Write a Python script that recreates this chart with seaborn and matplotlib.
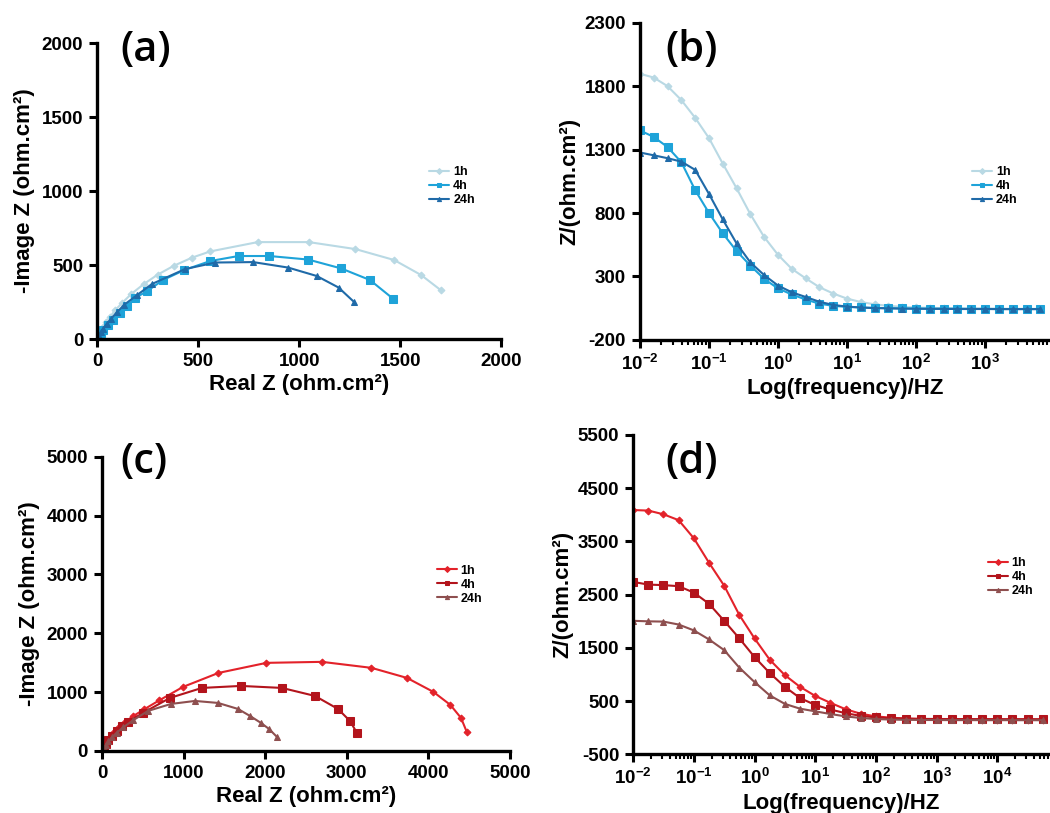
import numpy as np
import pandas as pd
import seaborn as sns
import matplotlib.pyplot as plt
from matplotlib.ticker import FuncFormatter, LogLocator, NullFormatter, FixedLocator

# ---- data ----
times = ["1h", "4h", "24h"]

# (a) Nyquist, first sample set
a_re_1h = [0, 8, 18, 30, 45, 65, 90, 125, 170, 230, 300, 380, 470, 560, 795, 1048, 1278, 1470, 1604, 1700]
a_im_1h = [0, 25, 50, 80, 112, 150, 195, 245, 305, 370, 435, 495, 550, 592, 655, 655, 608, 534, 432, 331]
a_re_4h = [0, 10, 20, 32, 55, 80, 114, 148, 188, 248, 327, 431, 560, 700, 853, 1045, 1208, 1350, 1465]
a_im_4h = [0, 22, 42, 62, 95, 128, 176, 223, 277, 324, 399, 466, 527, 561, 561, 537, 477, 399, 272]
a_re_24h = [0, 8, 18, 30, 48, 70, 98, 135, 198, 272, 436, 586, 772, 945, 1087, 1195, 1272]
a_im_24h = [0, 22, 45, 70, 102, 138, 180, 232, 297, 372, 473, 517, 520, 483, 426, 348, 250]

# (b) Bode modulus, first sample set
b_freq = [0.01, 0.0158, 0.0251, 0.0398, 0.0631, 0.1, 0.158, 0.251, 0.398, 0.631,
          1, 1.58, 2.51, 3.98, 6.31, 10, 15.8, 25.1, 39.8, 63.1,
          100, 158, 251, 398, 631, 1000, 1580, 2510, 3980, 6310]
b_z_1h = [1898, 1868, 1800, 1690, 1550, 1390, 1190, 995, 790, 610,
          470, 360, 285, 215, 165, 125, 98, 80, 68, 60,
          55, 52, 50, 48, 47, 46, 45, 44, 44, 44]
b_z_4h = [1451, 1400, 1320, 1200, 980, 800, 640, 500, 385, 280,
          205, 158, 118, 85, 68, 60, 55, 52, 50, 48,
          47, 46, 45, 45, 44, 44, 43, 43, 43, 43]
b_z_24h = [1277, 1255, 1232, 1205, 1140, 950, 750, 560, 410, 310,
           228, 175, 138, 100, 75, 62, 55, 50, 48, 46,
           45, 44, 44, 43, 43, 43, 42, 42, 42, 42]

# (c) Nyquist, second sample set
c_re_1h = [0, 15, 35, 60, 95, 140, 200, 280, 380, 520, 700, 993, 1428, 2016, 2696, 3303, 3738, 4062, 4270, 4400, 4473]
c_im_1h = [0, 40, 90, 150, 220, 300, 390, 490, 590, 710, 858, 1088, 1326, 1497, 1514, 1412, 1241, 1003, 782, 561, 315]
c_re_4h = [0, 20, 45, 80, 125, 180, 240, 319, 502, 833, 1225, 1703, 2206, 2610, 2892, 3039, 3125]
c_im_4h = [0, 50, 110, 180, 260, 340, 420, 493, 646, 901, 1071, 1105, 1071, 935, 714, 510, 306]
c_re_24h = [0, 20, 45, 80, 125, 180, 260, 380, 564, 846, 1140, 1422, 1667, 1814, 1949, 2047, 2145]
c_im_24h = [0, 45, 100, 165, 235, 310, 400, 520, 680, 799, 850, 816, 714, 595, 476, 374, 238]

# (d) Bode modulus, second sample set
d_freq = [0.01, 0.0178, 0.0316, 0.0562, 0.1, 0.178, 0.316, 0.562, 1, 1.78,
          3.16, 5.62, 10, 17.8, 31.6, 56.2, 100, 178, 316, 562,
          1000, 1780, 3160, 5620, 10000, 17800, 31600, 56200]
d_z_1h = [4090, 4080, 4010, 3900, 3560, 3100, 2670, 2120, 1680, 1280,
          990, 770, 600, 470, 350, 265, 215, 190, 175, 165,
          160, 158, 156, 155, 155, 154, 154, 153]
d_z_4h = [2740, 2690, 2680, 2660, 2540, 2330, 2010, 1680, 1330, 1030,
          770, 560, 430, 345, 275, 225, 195, 180, 172, 168,
          166, 165, 164, 164, 163, 163, 163, 162]
d_z_24h = [2010, 2000, 1995, 1940, 1830, 1660, 1460, 1130, 860, 610,
           450, 360, 310, 260, 215, 185, 165, 155, 150, 148,
           146, 145, 145, 144, 144, 144, 143, 143]

# axis ticks
a_ticks = [0, 500, 1000, 1500, 2000]
b_yticks = [-200, 300, 800, 1300, 1800, 2300]
c_ticks = [0, 1000, 2000, 3000, 4000, 5000]
d_yticks = [-500, 500, 1500, 2500, 3500, 4500, 5500]

blues = ["#b9d9e4", "#1ea3d9", "#1f6aa8"]
reds = ["#e3222a", "#b3141c", "#8e4f4f"]
markers = ["D", "s", "^"]
msizes = [3.5, 6, 5]

sns.set_theme(style="ticks")
plt.rcParams['font.family'] = ['Liberation Sans', 'DejaVu Sans']
plt.rcParams['font.weight'] = 'bold'
plt.rcParams['axes.unicode_minus'] = False
plt.rcParams['text.color'] = 'black'
plt.rcParams['axes.labelcolor'] = 'black'
plt.rcParams['xtick.color'] = 'black'
plt.rcParams['ytick.color'] = 'black'
plt.rcParams['mathtext.fontset'] = 'custom'
plt.rcParams['mathtext.rm'] = 'Liberation Sans:bold'
plt.rcParams['mathtext.bf'] = 'Liberation Sans:bold'
plt.rcParams['mathtext.it'] = 'Liberation Sans:bold'

fig = plt.figure(figsize=(10.5, 8.13), dpi=100)


def style_axes(ax):
    sns.despine(ax=ax)
    for s in ("left", "bottom"):
        ax.spines[s].set_linewidth(2.4)
        ax.spines[s].set_color("black")
    ax.tick_params(axis="both", which="major", length=6, width=2.2, colors="black",
                   labelsize=13.5, direction="out", pad=4)
    ax.tick_params(axis="both", which="minor", length=3.5, width=1.5, colors="black")
    for lab in ax.get_xticklabels() + ax.get_yticklabels():
        lab.set_fontweight("bold")


def add_tag(tag, x, y):
    fig.text(x, y, tag, fontsize=30, fontweight="semibold", color="black",
             family=["Open Sans", "Liberation Sans"], va="center", ha="left")


def add_legend(ax, x, y):
    leg = ax.legend(loc="upper left", bbox_to_anchor=(x, y), bbox_transform=fig.transFigure,
                    frameon=False, prop={"size": 9, "weight": "bold"},
                    handlelength=1.6, handletextpad=0.3, labelspacing=0.15, borderpad=0)
    for h in leg.get_lines():
        h.set_markersize(3)
        h.set_linewidth(1.5)


def nyquist(rect, series, colors, ticks, leg_xy):
    ax = fig.add_axes(rect)
    for (re, im), t, c, m, ms in zip(series, times, colors, markers, msizes):
        df = pd.DataFrame({"re": re, "im": im})
        sns.lineplot(data=df, x="re", y="im", sort=False, estimator=None, ax=ax,
                     color=c, marker=m, markersize=ms, markeredgecolor=c,
                     linewidth=1.5, label=t)
    ax.set_xlim(ticks[0], ticks[-1])
    ax.set_ylim(ticks[0], ticks[-1])
    ax.xaxis.set_major_locator(FixedLocator(ticks))
    ax.yaxis.set_major_locator(FixedLocator(ticks))
    ax.set_xlabel("Real Z (ohm.cm²)", fontsize=16, fontweight="bold", labelpad=3)
    ax.set_ylabel("-Image Z (ohm.cm²)", fontsize=16, fontweight="bold", labelpad=5)
    style_axes(ax)
    add_legend(ax, *leg_xy)
    return ax


def bode(rect, freq, series, colors, xmax, yticks, leg_xy):
    ax = fig.add_axes(rect)
    for z, t, c, m, ms in zip(series, times, colors, markers, msizes):
        df = pd.DataFrame({"f": freq, "z": z})
        sns.lineplot(data=df, x="f", y="z", sort=False, estimator=None, ax=ax,
                     color=c, marker=m, markersize=ms, markeredgecolor=c,
                     linewidth=1.5, label=t)
    ax.set_xscale("log")
    ax.set_xlim(0.01, xmax)
    ax.set_ylim(yticks[0], yticks[-1])
    ax.yaxis.set_major_locator(FixedLocator(yticks))
    ax.xaxis.set_major_locator(LogLocator(base=10, numticks=20))
    ax.xaxis.set_minor_locator(LogLocator(base=10, subs=np.arange(2, 10), numticks=100))
    ax.xaxis.set_minor_formatter(NullFormatter())
    ax.xaxis.set_major_formatter(FuncFormatter(lambda v, p: r"$10^{%d}$" % round(np.log10(v))))
    ax.set_xlabel("Log(frequency)/HZ", fontsize=16, fontweight="bold", labelpad=3)
    ax.set_ylabel("Z/(ohm.cm²)", fontsize=16, fontweight="bold", labelpad=3)
    style_axes(ax)
    add_legend(ax, *leg_xy)
    return ax


nyquist([0.0924, 0.583, 0.385, 0.364],
        [(a_re_1h, a_im_1h), (a_re_4h, a_im_4h), (a_re_24h, a_im_24h)],
        blues, a_ticks, (0.403, 0.803))
bode([0.6095, 0.582, 0.3905, 0.390], b_freq, [b_z_1h, b_z_4h, b_z_24h],
     blues, 10 ** 3.94, b_yticks, (0.92, 0.803))
nyquist([0.0971, 0.0763, 0.3886, 0.362],
        [(c_re_1h, c_im_1h), (c_re_4h, c_im_4h), (c_re_24h, c_im_24h)],
        reds, c_ticks, (0.41, 0.313))
bode([0.603, 0.072, 0.397, 0.393], d_freq, [d_z_1h, d_z_4h, d_z_24h],
     reds, 10 ** 4.87, d_yticks, (0.935, 0.322))

add_tag("(a)", 0.115, 1 - 50 / 813)
add_tag("(b)", 0.634, 1 - 50 / 813)
add_tag("(c)", 0.115, 1 - 462 / 813)
add_tag("(d)", 0.634, 1 - 462 / 813)

fig.savefig("out.png", dpi=100)
